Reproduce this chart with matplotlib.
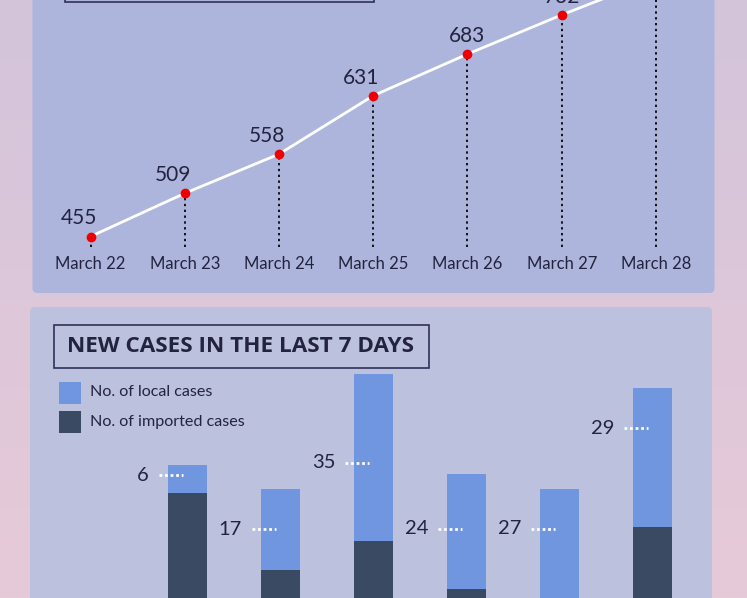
import matplotlib.pyplot as plt
import numpy as np
from matplotlib.patches import FancyBboxPatch, Rectangle
from matplotlib.colors import LinearSegmentedColormap

plt.rcParams['font.family'] = ['Lato', 'DejaVu Sans']

# cumulative cases (top chart)
dates = ['March 22', 'March 23', 'March 24', 'March 25', 'March 26', 'March 27', 'March 28']
total_cases = [455, 509, 558, 631, 683, 732, 778]

# new cases per day (bottom chart)
bar_days = ['March 23', 'March 24', 'March 25', 'March 26', 'March 27', 'March 28']
local_cases = [6, 17, 35, 24, 27, 29]
imported_cases = [48, 32, 38, 28, 22, 41]

W, H = 747, 598
TEXT = '#23233f'
LOCAL = '#7096e0'
IMPORTED = '#3b4a63'

fig = plt.figure(figsize=(W / 100, H / 100), dpi=100)


def px_axes(x0, y0, x1, y1):
    # axes placed with pixel coords measured from the top left
    return fig.add_axes([x0 / W, 1 - y1 / H, (x1 - x0) / W, (y1 - y0) / H])


# background + panels
bg = px_axes(0, 0, W, H)
bg.set_xlim(0, W)
bg.set_ylim(H, 0)
bg.axis('off')
cmap = LinearSegmentedColormap.from_list('bg', ['#d3c4db', '#e7cad8'])
bg.imshow(np.linspace(0, 1, 256).reshape(-1, 1), cmap=cmap, aspect='auto',
          extent=[0, W, H, 0], zorder=0)
bg.add_patch(FancyBboxPatch((32.5, -30), 682, 323, boxstyle='round,pad=0,rounding_size=5',
                            fc='#adb5dc', ec='none', zorder=1))
bg.add_patch(FancyBboxPatch((30, 307), 682, 320, boxstyle='round,pad=0,rounding_size=5',
                            fc='#bcc1dd', ec='none', zorder=1))
bg.add_patch(Rectangle((64.5, -40), 309.5, 42.3, fc='none', ec='#30305a', lw=1.2, zorder=2))
bg.add_patch(Rectangle((53.5, 325), 375.5, 42.5, fc='none', ec='#30305a', lw=1.2, zorder=2))
bg.text(67, 346, 'NEW CASES IN THE LAST 7 DAYS', fontsize=16.2, fontweight='bold',
        family=['Open Sans', 'DejaVu Sans'], color=TEXT, ha='left', va='center', zorder=3)

# legend
bg.add_patch(Rectangle((58.5, 381.5), 22.5, 22, fc=LOCAL, ec='none', zorder=2))
bg.add_patch(Rectangle((58.5, 411), 22.5, 22, fc=IMPORTED, ec='none', zorder=2))
bg.text(89.5, 392, 'No. of local cases', fontsize=11.6, color=TEXT, va='center', zorder=3)
bg.text(89.5, 422, 'No. of imported cases', fontsize=11.6, color=TEXT, va='center', zorder=3)

# line chart
ax1 = px_axes(32, 0, 714, 247)
ax1.patch.set_alpha(0)
x = np.arange(len(dates))
ax1.set_xlim(-0.6207, 6.6154)
ax1.set_ylim(441.9, 750.6)
ax1.vlines(x, 441.9, total_cases, colors='#111111', linestyles=(0, (1.2, 1.8)), lw=1.4, zorder=2)
ax1.plot(x, total_cases, color='white', lw=2, zorder=3)
ax1.plot(x, total_cases, 'o', color='#ee0000', ms=6, zorder=4)
label_dx = [-8.6, -8.6, -8.6, -8.6, 0, 0]
for i, v in enumerate(total_cases[:6]):
    ax1.annotate(str(v), (i, v), xytext=(label_dx[i], 13), textcoords='offset points',
                 ha='center', va='center', fontsize=15, color=TEXT)
ax1.set_xticks(x, dates)
ax1.set_yticks([])
ax1.tick_params(axis='x', length=0, pad=6.5, labelsize=12, labelcolor=TEXT)
for s in ax1.spines.values():
    s.set_visible(False)

# stacked bars
ax2 = px_axes(30, 300, 712, 598)
ax2.patch.set_alpha(0)
xb = np.arange(len(bar_days))
bw = 0.419
ax2.set_xlim(-1.692, 5.634)
ax2.set_ylim(26.1, 88.45)
ax2.bar(xb, imported_cases, width=bw, color=IMPORTED)
ax2.bar(xb, local_cases, bottom=imported_cases, width=bw, color=LOCAL)
label_pos = [0.37, 0.5, 0.53, 0.475, 0.31, 0.29]
for i, (loc, imp) in enumerate(zip(local_cases, imported_cases)):
    y = imp + loc * (1 - label_pos[i])
    left = xb[i] - bw / 2
    ax2.plot([left - 9 / 93.1, left + 15 / 93.1], [y, y], color='white', lw=2,
             linestyle=(0, (1, 1)), zorder=3)
    ax2.text(left - 19 / 93.1, y, str(loc), ha='right', va='center', fontsize=14.5,
             color=TEXT)
ax2.axis('off')

fig.savefig('out.png', dpi=100)
